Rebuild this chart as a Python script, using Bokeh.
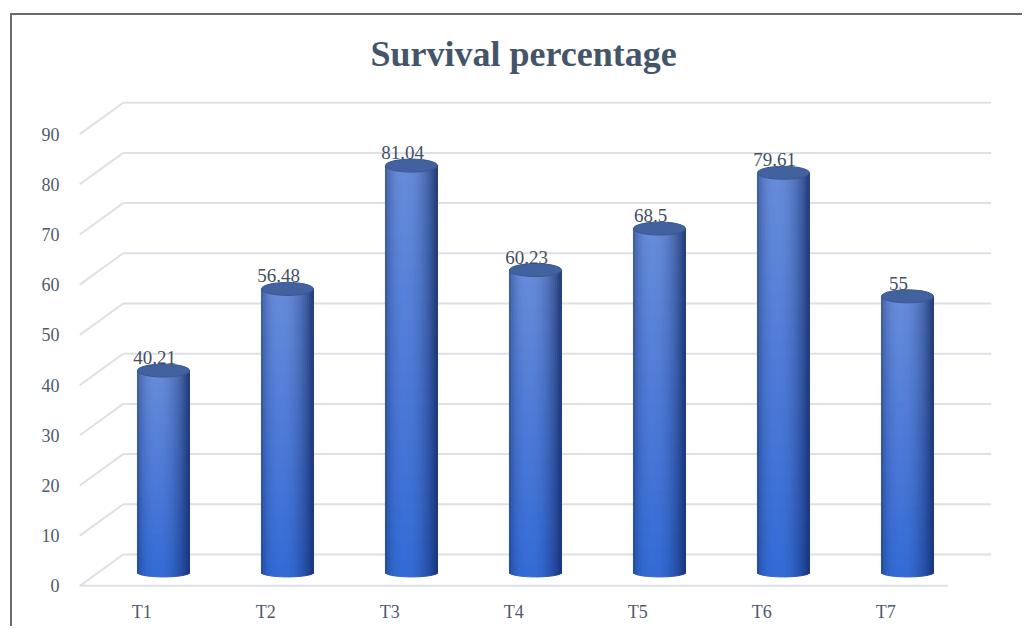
import numpy as np
from bokeh.plotting import figure
from bokeh.models import Range1d, LinearAxis, FixedTicker, ColumnDataSource
from bokeh.embed import file_html
from bokeh.resources import INLINE
from bokeh.core.properties import value

# ---------------- data ----------------
categories = ["T1", "T2", "T3", "T4", "T5", "T6", "T7"]
survival = [40.21, 56.48, 81.04, 60.23, 68.5, 79.61, 55]
y_ticks = [0, 10, 20, 30, 40, 50, 60, 70, 80, 90]
title_text = "Survival percentage"

# ---------------- geometry / style ----------------
FW, FH = 1012, 613   # figure size inside the outer chart border
X0, X1 = 0.2661, 7.75
Y0, Y1 = -4.0, 96.0
DX = 0.175          # depth shift (category units) between mid plane and back/front planes
BACK_DY = 3.57      # back wall offset (value units)
FRONT_DY = -2.68    # front edge offset (value units)
BAR_W = 0.42
BOT_H = 0.9         # half height of bottom ellipse (value units)
NS, NV = 26, 24     # strips across / segments along each cylinder

FONT = "Liberation Serif"
TXT = "#4f5a6b"
GRID = "#dde0e7"

p = figure(width=FW, height=FH, x_range=Range1d(X0, X1), y_range=Range1d(Y0, Y1),
           output_backend="svg", toolbar_location=None,
           x_axis_location=None, y_axis_location=None,
           min_border_left=60, min_border_right=24, min_border_top=73, min_border_bottom=36)
p.grid.visible = False
p.outline_line_color = None
p.background_fill_color = "white"
p.border_fill_color = "white"
p.margin = (13, 0, 0, 10)
p.styles = {"border-left": "2px solid #6b6b6b", "border-top": "2px solid #6b6b6b"}

# title
p.title.text = title_text
p.title.align = "left"
p.title.text_font = FONT
p.title.text_font_style = "bold"
p.title.text_font_size = "36px"
p.title.text_color = "#44546A"
p.title.offset = 298
p.title.standoff = 33

# ---------------- walls / gridlines ----------------
xi = np.arange(1, len(categories) + 1)
left_edge = xi.min() - 0.5
right_edge = xi.max() + 0.5
tv = np.array(y_ticks, dtype=float)

p.segment(x0=[left_edge + DX] * len(tv), x1=[right_edge + DX] * len(tv),
          y0=tv + BACK_DY, y1=tv + BACK_DY, line_color=GRID, line_width=2)
p.segment(x0=[left_edge - DX] * len(tv), x1=[left_edge + DX] * len(tv),
          y0=tv + FRONT_DY, y1=tv + BACK_DY, line_color=GRID, line_width=2)
p.segment(x0=[left_edge - DX], x1=[right_edge - DX],
          y0=[tv[0] + FRONT_DY], y1=[tv[0] + FRONT_DY], line_color=GRID, line_width=2)

# ---------------- cylinders ----------------
top_light = np.array([104, 140, 218])
top_dark = np.array([40, 64, 122])
bot_light = np.array([52, 108, 214])
bot_dark = np.array([26, 56, 128])

def shade(uc, t):
    th = np.arcsin(np.clip(uc, -1, 1))
    s = max(0.0, np.cos(th + 0.25)) ** 1.3
    light = bot_light + (top_light - bot_light) * t
    dark = bot_dark + (top_dark - bot_dark) * t
    c = dark + (light - dark) * s
    return "#%02x%02x%02x" % tuple(int(round(v)) for v in c)

ql, qr, qb, qt, qc = [], [], [], [], []
for x, v in zip(xi, survival):
    for k in range(NS):
        ua = -1 + 2 * k / NS
        ub = -1 + 2 * (k + 1) / NS
        uc = (ua + ub) / 2
        yb = -BOT_H * np.sqrt(max(0.0, 1 - uc * uc))
        for j in range(NV):
            t0 = j / NV
            t1 = (j + 1) / NV
            ql.append(x + ua * BAR_W / 2)
            qr.append(x + ub * BAR_W / 2)
            qb.append(yb + (v - yb) * t0)
            qt.append(yb + (v - yb) * t1)
            qc.append(shade(uc, (t0 + t1) / 2))

qsrc = ColumnDataSource(dict(left=ql, right=qr, bottom=qb, top=qt, color=qc))
p.quad(left="left", right="right", bottom="bottom", top="top", source=qsrc,
       fill_color="color", line_color="color", line_width=1)

p.ellipse(x=xi, y=survival, width=BAR_W, height=13, height_units="screen",
          fill_color="#42629f", line_color="#3a5690", line_width=1)

# data labels
p.text(x=xi, y=survival, text=[f"{v:g}" for v in survival],
       x_offset=-9, y_offset=-13, text_align="center", text_baseline="alphabetic",
       text_font=value(FONT), text_font_size="19px", text_color="#444f60")

# ---------------- axes on front plane ----------------
p.extra_y_ranges = {"front": Range1d(Y0 - FRONT_DY, Y1 - FRONT_DY)}
p.extra_x_ranges = {"front": Range1d(X0 + DX, X1 + DX)}

yax = LinearAxis(y_range_name="front", ticker=FixedTicker(ticks=y_ticks))
xax = LinearAxis(x_range_name="front", ticker=FixedTicker(ticks=list(xi)))
xax.major_label_overrides = {int(i): c for i, c in zip(xi, categories)}
for ax, so in ((yax, 7), (xax, 3)):
    ax.axis_line_color = None
    ax.major_tick_line_color = None
    ax.minor_tick_line_color = None
    ax.major_label_text_font = FONT
    ax.major_label_text_font_size = "18px"
    ax.major_label_text_color = TXT
    ax.major_label_standoff = so
p.add_layout(yax, "left")
p.add_layout(xax, "below")

open("out.html", "w").write(file_html(p, INLINE))
